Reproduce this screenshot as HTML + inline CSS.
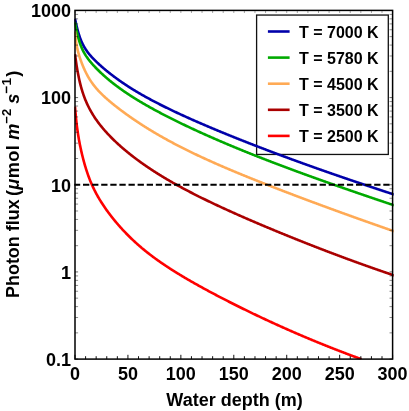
<!DOCTYPE html>
<html><head><meta charset="utf-8"><title>Photon flux</title>
<style>
html,body{margin:0;padding:0;background:#fff;}
body{width:409px;height:411px;overflow:hidden;}
svg{display:block;will-change:transform;}
text{font-family:"Liberation Sans",sans-serif;font-weight:bold;fill:#000;}
.tk{font-size:18px;}
.lg{font-size:16px;}
.ax{font-size:18px;}
</style></head><body>
<svg width="409" height="411" viewBox="0 0 409 411">
<rect width="409" height="411" fill="#fff"/>
<defs><clipPath id="cp"><rect x="74.30" y="10.4" width="319.40" height="349.20"/></clipPath></defs>
<rect x="256.6" y="15.05" width="131.7" height="139.4" fill="none" stroke="#111" stroke-width="1.3"/>
<g clip-path="url(#cp)">
<path d="M75.00,18.70 L75.25,19.94 L75.50,21.14 L75.75,22.31 L76.00,23.44 L76.25,24.55 L76.50,25.62 L76.75,26.66 L77.00,27.67 L77.25,28.66 L77.50,29.61 L77.75,30.53 L78.00,31.43 L78.25,32.30 L78.50,33.14 L78.75,33.96 L79.00,34.75 L79.25,35.52 L79.50,36.27 L79.75,36.99 L80.00,37.69 L80.25,38.37 L80.50,39.03 L80.75,39.68 L81.00,40.30 L81.25,40.90 L81.50,41.49 L81.75,42.06 L82.00,42.61 L82.25,43.15 L82.50,43.68 L82.75,44.19 L83.00,44.69 L83.25,45.17 L83.50,45.64 L83.75,46.10 L84.00,46.55 L84.25,46.99 L84.50,47.42 L84.75,47.84 L85.00,48.25 L85.50,49.05 L86.00,49.81 L86.50,50.54 L87.00,51.25 L87.50,51.93 L88.00,52.60 L88.50,53.24 L89.00,53.86 L89.50,54.47 L90.00,55.07 L90.50,55.65 L91.00,56.21 L91.50,56.77 L92.00,57.32 L92.50,57.85 L93.00,58.38 L93.50,58.90 L94.00,59.41 L94.50,59.92 L95.00,60.42 L95.50,60.91 L96.00,61.40 L96.50,61.88 L97.00,62.36 L97.50,62.83 L98.00,63.30 L98.50,63.76 L99.00,64.22 L99.50,64.68 L100.00,65.13 L100.50,65.57 L101.00,66.02 L101.50,66.46 L102.00,66.90 L102.50,67.33 L103.00,67.77 L103.50,68.19 L104.00,68.62 L104.50,69.04 L105.00,69.46 L105.50,69.88 L106.00,70.29 L106.50,70.71 L107.00,71.11 L107.50,71.52 L108.00,71.93 L108.50,72.33 L109.00,72.73 L109.50,73.12 L110.00,73.52 L110.50,73.91 L111.00,74.30 L111.50,74.69 L112.00,75.07 L112.50,75.45 L113.00,75.83 L113.50,76.21 L114.00,76.59 L114.50,76.96 L115.00,77.33 L115.50,77.70 L116.00,78.07 L116.50,78.44 L117.00,78.80 L117.50,79.16 L118.00,79.52 L118.50,79.88 L119.00,80.24 L119.50,80.59 L120.00,80.94 L120.50,81.29 L121.00,81.64 L121.50,81.98 L122.00,82.33 L122.50,82.67 L123.00,83.01 L123.50,83.35 L124.00,83.69 L124.50,84.02 L125.00,84.36 L125.50,84.69 L126.00,85.02 L126.50,85.35 L127.00,85.68 L127.50,86.00 L128.00,86.33 L128.50,86.65 L129.00,86.97 L129.50,87.29 L130.00,87.61 L130.50,87.92 L131.00,88.24 L131.50,88.55 L132.00,88.86 L132.50,89.17 L133.00,89.48 L133.50,89.79 L134.00,90.09 L134.50,90.40 L135.00,90.70 L135.50,91.01 L136.00,91.31 L136.50,91.61 L137.00,91.90 L137.50,92.20 L138.00,92.50 L138.50,92.79 L139.00,93.08 L139.50,93.38 L140.00,93.67 L140.50,93.96 L141.00,94.25 L141.50,94.53 L142.00,94.82 L142.50,95.10 L143.00,95.39 L143.50,95.67 L144.00,95.95 L144.50,96.23 L145.00,96.51 L145.50,96.79 L146.00,97.07 L146.50,97.35 L147.00,97.62 L147.50,97.90 L148.00,98.17 L148.50,98.44 L149.00,98.71 L149.50,98.99 L150.00,99.26 L150.50,99.52 L151.00,99.79 L151.50,100.06 L152.00,100.33 L152.50,100.59 L153.00,100.86 L153.50,101.12 L154.00,101.38 L154.50,101.64 L155.00,101.91 L155.50,102.17 L156.00,102.43 L156.50,102.69 L157.00,102.94 L157.50,103.20 L158.00,103.46 L158.50,103.71 L159.00,103.97 L159.50,104.22 L160.00,104.48 L160.50,104.73 L161.00,104.98 L161.50,105.23 L162.00,105.48 L162.50,105.73 L163.00,105.98 L163.50,106.23 L164.00,106.48 L164.50,106.73 L165.00,106.98 L165.50,107.22 L166.00,107.47 L166.50,107.71 L167.00,107.96 L167.50,108.20 L168.00,108.45 L168.50,108.69 L169.00,108.93 L169.50,109.17 L170.00,109.41 L170.50,109.65 L171.00,109.89 L171.50,110.13 L172.00,110.37 L172.50,110.61 L173.00,110.85 L173.50,111.09 L174.00,111.32 L174.50,111.56 L175.00,111.80 L175.50,112.03 L176.00,112.27 L176.50,112.50 L177.00,112.73 L177.50,112.97 L178.00,113.20 L178.50,113.43 L179.00,113.67 L179.50,113.90 L180.00,114.13 L180.50,114.36 L181.00,114.59 L181.50,114.82 L182.00,115.05 L182.50,115.28 L183.00,115.51 L183.50,115.73 L184.00,115.96 L184.50,116.19 L185.00,116.42 L185.50,116.64 L186.00,116.87 L186.50,117.10 L187.00,117.32 L187.50,117.55 L188.00,117.77 L188.50,118.00 L189.00,118.22 L189.50,118.44 L190.00,118.67 L190.50,118.89 L191.00,119.11 L191.50,119.33 L192.00,119.56 L192.50,119.78 L193.00,120.00 L193.50,120.22 L194.00,120.44 L194.50,120.66 L195.00,120.88 L195.50,121.10 L196.00,121.32 L196.50,121.54 L197.00,121.76 L197.50,121.98 L198.00,122.19 L198.50,122.41 L199.00,122.63 L199.50,122.85 L200.00,123.06 L200.50,123.28 L201.00,123.50 L201.50,123.71 L202.00,123.93 L202.50,124.14 L203.00,124.36 L203.50,124.57 L204.00,124.79 L204.50,125.00 L205.00,125.21 L205.50,125.43 L206.00,125.64 L206.50,125.86 L207.00,126.07 L207.50,126.28 L208.00,126.49 L208.50,126.71 L209.00,126.92 L209.50,127.13 L210.00,127.34 L210.50,127.55 L211.00,127.76 L211.50,127.97 L212.00,128.18 L212.50,128.39 L213.00,128.60 L213.50,128.81 L214.00,129.02 L214.50,129.23 L215.00,129.44 L215.50,129.65 L216.00,129.86 L216.50,130.07 L217.00,130.27 L217.50,130.48 L218.00,130.69 L218.50,130.90 L219.00,131.10 L219.50,131.31 L220.00,131.52 L220.50,131.72 L221.00,131.93 L221.50,132.14 L222.00,132.34 L222.50,132.55 L223.00,132.75 L223.50,132.96 L224.00,133.16 L224.50,133.37 L225.00,133.57 L225.50,133.78 L226.00,133.98 L226.50,134.18 L227.00,134.39 L227.50,134.59 L228.00,134.79 L228.50,135.00 L229.00,135.20 L229.50,135.40 L230.00,135.60 L230.50,135.81 L231.00,136.01 L231.50,136.21 L232.00,136.41 L232.50,136.61 L233.00,136.82 L233.50,137.02 L234.00,137.22 L234.50,137.42 L235.00,137.62 L235.50,137.82 L236.00,138.02 L236.50,138.22 L237.00,138.42 L237.50,138.62 L238.00,138.82 L238.50,139.02 L239.00,139.22 L239.50,139.42 L240.00,139.61 L240.50,139.81 L241.00,140.01 L241.50,140.21 L242.00,140.41 L242.50,140.61 L243.00,140.80 L243.50,141.00 L244.00,141.20 L244.50,141.40 L245.00,141.59 L245.50,141.79 L246.00,141.99 L246.50,142.18 L247.00,142.38 L247.50,142.57 L248.00,142.77 L248.50,142.97 L249.00,143.16 L249.50,143.36 L250.00,143.55 L250.50,143.75 L251.00,143.94 L251.50,144.14 L252.00,144.33 L252.50,144.53 L253.00,144.72 L253.50,144.92 L254.00,145.11 L254.50,145.30 L255.00,145.50 L255.50,145.69 L256.00,145.88 L256.50,146.08 L257.00,146.27 L257.50,146.46 L258.00,146.66 L258.50,146.85 L259.00,147.04 L259.50,147.23 L260.00,147.43 L260.50,147.62 L261.00,147.81 L261.50,148.00 L262.00,148.19 L262.50,148.38 L263.00,148.58 L263.50,148.77 L264.00,148.96 L264.50,149.15 L265.00,149.34 L265.50,149.53 L266.00,149.72 L266.50,149.91 L267.00,150.10 L267.50,150.29 L268.00,150.48 L268.50,150.67 L269.00,150.86 L269.50,151.05 L270.00,151.24 L270.50,151.43 L271.00,151.61 L271.50,151.80 L272.00,151.99 L272.50,152.18 L273.00,152.37 L273.50,152.56 L274.00,152.74 L274.50,152.93 L275.00,153.12 L275.50,153.31 L276.00,153.49 L276.50,153.68 L277.00,153.87 L277.50,154.06 L278.00,154.24 L278.50,154.43 L279.00,154.62 L279.50,154.80 L280.00,154.99 L280.50,155.18 L281.00,155.36 L281.50,155.55 L282.00,155.73 L282.50,155.92 L283.00,156.10 L283.50,156.29 L284.00,156.47 L284.50,156.66 L285.00,156.84 L285.50,157.03 L286.00,157.21 L286.50,157.40 L287.00,157.58 L287.50,157.77 L288.00,157.95 L288.50,158.14 L289.00,158.32 L289.50,158.50 L290.00,158.69 L290.50,158.87 L291.00,159.05 L291.50,159.24 L292.00,159.42 L292.50,159.60 L293.00,159.79 L293.50,159.97 L294.00,160.15 L294.50,160.33 L295.00,160.52 L295.50,160.70 L296.00,160.88 L296.50,161.06 L297.00,161.25 L297.50,161.43 L298.00,161.61 L298.50,161.79 L299.00,161.97 L299.50,162.15 L300.00,162.33 L300.50,162.51 L301.00,162.70 L301.50,162.88 L302.00,163.06 L302.50,163.24 L303.00,163.42 L303.50,163.60 L304.00,163.78 L304.50,163.96 L305.00,164.14 L305.50,164.32 L306.00,164.50 L306.50,164.68 L307.00,164.86 L307.50,165.04 L308.00,165.21 L308.50,165.39 L309.00,165.57 L309.50,165.75 L310.00,165.93 L310.50,166.11 L311.00,166.29 L311.50,166.47 L312.00,166.64 L312.50,166.82 L313.00,167.00 L313.50,167.18 L314.00,167.36 L314.50,167.53 L315.00,167.71 L315.50,167.89 L316.00,168.07 L316.50,168.24 L317.00,168.42 L317.50,168.60 L318.00,168.77 L318.50,168.95 L319.00,169.13 L319.50,169.30 L320.00,169.48 L320.50,169.66 L321.00,169.83 L321.50,170.01 L322.00,170.19 L322.50,170.36 L323.00,170.54 L323.50,170.71 L324.00,170.89 L324.50,171.06 L325.00,171.24 L325.50,171.41 L326.00,171.59 L326.50,171.76 L327.00,171.94 L327.50,172.11 L328.00,172.29 L328.50,172.46 L329.00,172.64 L329.50,172.81 L330.00,172.99 L330.50,173.16 L331.00,173.33 L331.50,173.51 L332.00,173.68 L332.50,173.86 L333.00,174.03 L333.50,174.20 L334.00,174.38 L334.50,174.55 L335.00,174.72 L335.50,174.90 L336.00,175.07 L336.50,175.24 L337.00,175.41 L337.50,175.59 L338.00,175.76 L338.50,175.93 L339.00,176.10 L339.50,176.28 L340.00,176.45 L340.50,176.62 L341.00,176.79 L341.50,176.97 L342.00,177.14 L342.50,177.31 L343.00,177.48 L343.50,177.65 L344.00,177.82 L344.50,177.99 L345.00,178.17 L345.50,178.34 L346.00,178.51 L346.50,178.68 L347.00,178.85 L347.50,179.02 L348.00,179.19 L348.50,179.36 L349.00,179.53 L349.50,179.70 L350.00,179.87 L350.50,180.04 L351.00,180.21 L351.50,180.38 L352.00,180.55 L352.50,180.72 L353.00,180.89 L353.50,181.06 L354.00,181.23 L354.50,181.40 L355.00,181.57 L355.50,181.74 L356.00,181.91 L356.50,182.08 L357.00,182.25 L357.50,182.41 L358.00,182.58 L358.50,182.75 L359.00,182.92 L359.50,183.09 L360.00,183.26 L360.50,183.43 L361.00,183.59 L361.50,183.76 L362.00,183.93 L362.50,184.10 L363.00,184.27 L363.50,184.43 L364.00,184.60 L364.50,184.77 L365.00,184.94 L365.50,185.10 L366.00,185.27 L366.50,185.44 L367.00,185.60 L367.50,185.77 L368.00,185.94 L368.50,186.11 L369.00,186.27 L369.50,186.44 L370.00,186.61 L370.50,186.77 L371.00,186.94 L371.50,187.11 L372.00,187.27 L372.50,187.44 L373.00,187.60 L373.50,187.77 L374.00,187.94 L374.50,188.10 L375.00,188.27 L375.50,188.43 L376.00,188.60 L376.50,188.76 L377.00,188.93 L377.50,189.09 L378.00,189.26 L378.50,189.43 L379.00,189.59 L379.50,189.76 L380.00,189.92 L380.50,190.09 L381.00,190.25 L381.50,190.41 L382.00,190.58 L382.50,190.74 L383.00,190.91 L383.50,191.07 L384.00,191.24 L384.50,191.40 L385.00,191.57 L385.50,191.73 L386.00,191.89 L386.50,192.06 L387.00,192.22 L387.50,192.38 L388.00,192.55 L388.50,192.71 L389.00,192.88 L389.50,193.04 L390.00,193.20 L390.50,193.37 L391.00,193.53 L391.50,193.69 L392.00,193.86 L392.50,194.02 L392.60,194.05 L394.10,194.54" stroke="#0000aa" stroke-width="2.6" fill="none" stroke-linejoin="round"/>
<path d="M75.00,22.22 L75.25,23.65 L75.50,25.04 L75.75,26.38 L76.00,27.67 L76.25,28.93 L76.50,30.14 L76.75,31.31 L77.00,32.45 L77.25,33.54 L77.50,34.60 L77.75,35.62 L78.00,36.60 L78.25,37.55 L78.50,38.47 L78.75,39.35 L79.00,40.21 L79.25,41.03 L79.50,41.83 L79.75,42.60 L80.00,43.34 L80.25,44.06 L80.50,44.75 L80.75,45.43 L81.00,46.08 L81.25,46.71 L81.50,47.32 L81.75,47.91 L82.00,48.48 L82.25,49.04 L82.50,49.58 L82.75,50.10 L83.00,50.62 L83.25,51.11 L83.50,51.60 L83.75,52.07 L84.00,52.53 L84.25,52.98 L84.50,53.42 L84.75,53.85 L85.00,54.27 L85.50,55.08 L86.00,55.87 L86.50,56.62 L87.00,57.35 L87.50,58.06 L88.00,58.74 L88.50,59.41 L89.00,60.06 L89.50,60.70 L90.00,61.32 L90.50,61.93 L91.00,62.52 L91.50,63.11 L92.00,63.69 L92.50,64.25 L93.00,64.81 L93.50,65.36 L94.00,65.91 L94.50,66.45 L95.00,66.98 L95.50,67.50 L96.00,68.02 L96.50,68.53 L97.00,69.04 L97.50,69.54 L98.00,70.04 L98.50,70.54 L99.00,71.02 L99.50,71.51 L100.00,71.99 L100.50,72.46 L101.00,72.93 L101.50,73.40 L102.00,73.87 L102.50,74.33 L103.00,74.78 L103.50,75.23 L104.00,75.68 L104.50,76.13 L105.00,76.57 L105.50,77.01 L106.00,77.45 L106.50,77.88 L107.00,78.31 L107.50,78.73 L108.00,79.15 L108.50,79.57 L109.00,79.99 L109.50,80.40 L110.00,80.82 L110.50,81.22 L111.00,81.63 L111.50,82.03 L112.00,82.43 L112.50,82.83 L113.00,83.22 L113.50,83.61 L114.00,84.00 L114.50,84.39 L115.00,84.77 L115.50,85.16 L116.00,85.53 L116.50,85.91 L117.00,86.29 L117.50,86.66 L118.00,87.03 L118.50,87.40 L119.00,87.76 L119.50,88.13 L120.00,88.49 L120.50,88.85 L121.00,89.20 L121.50,89.56 L122.00,89.91 L122.50,90.26 L123.00,90.61 L123.50,90.96 L124.00,91.31 L124.50,91.65 L125.00,91.99 L125.50,92.33 L126.00,92.67 L126.50,93.01 L127.00,93.34 L127.50,93.68 L128.00,94.01 L128.50,94.34 L129.00,94.67 L129.50,94.99 L130.00,95.32 L130.50,95.64 L131.00,95.97 L131.50,96.29 L132.00,96.61 L132.50,96.92 L133.00,97.24 L133.50,97.56 L134.00,97.87 L134.50,98.18 L135.00,98.49 L135.50,98.80 L136.00,99.11 L136.50,99.42 L137.00,99.73 L137.50,100.03 L138.00,100.34 L138.50,100.64 L139.00,100.94 L139.50,101.24 L140.00,101.54 L140.50,101.84 L141.00,102.13 L141.50,102.43 L142.00,102.72 L142.50,103.02 L143.00,103.31 L143.50,103.60 L144.00,103.89 L144.50,104.18 L145.00,104.47 L145.50,104.76 L146.00,105.05 L146.50,105.33 L147.00,105.62 L147.50,105.90 L148.00,106.18 L148.50,106.47 L149.00,106.75 L149.50,107.03 L150.00,107.31 L150.50,107.59 L151.00,107.86 L151.50,108.14 L152.00,108.42 L152.50,108.69 L153.00,108.97 L153.50,109.24 L154.00,109.52 L154.50,109.79 L155.00,110.06 L155.50,110.33 L156.00,110.60 L156.50,110.87 L157.00,111.14 L157.50,111.41 L158.00,111.67 L158.50,111.94 L159.00,112.21 L159.50,112.47 L160.00,112.74 L160.50,113.00 L161.00,113.27 L161.50,113.53 L162.00,113.79 L162.50,114.05 L163.00,114.31 L163.50,114.57 L164.00,114.83 L164.50,115.09 L165.00,115.35 L165.50,115.61 L166.00,115.86 L166.50,116.12 L167.00,116.38 L167.50,116.63 L168.00,116.89 L168.50,117.14 L169.00,117.40 L169.50,117.65 L170.00,117.90 L170.50,118.16 L171.00,118.41 L171.50,118.66 L172.00,118.91 L172.50,119.16 L173.00,119.41 L173.50,119.66 L174.00,119.91 L174.50,120.15 L175.00,120.40 L175.50,120.65 L176.00,120.90 L176.50,121.14 L177.00,121.39 L177.50,121.63 L178.00,121.88 L178.50,122.12 L179.00,122.37 L179.50,122.61 L180.00,122.85 L180.50,123.10 L181.00,123.34 L181.50,123.58 L182.00,123.82 L182.50,124.06 L183.00,124.30 L183.50,124.54 L184.00,124.78 L184.50,125.02 L185.00,125.26 L185.50,125.50 L186.00,125.74 L186.50,125.97 L187.00,126.21 L187.50,126.45 L188.00,126.68 L188.50,126.92 L189.00,127.15 L189.50,127.39 L190.00,127.62 L190.50,127.86 L191.00,128.09 L191.50,128.33 L192.00,128.56 L192.50,128.79 L193.00,129.02 L193.50,129.26 L194.00,129.49 L194.50,129.72 L195.00,129.95 L195.50,130.18 L196.00,130.41 L196.50,130.64 L197.00,130.87 L197.50,131.10 L198.00,131.33 L198.50,131.56 L199.00,131.78 L199.50,132.01 L200.00,132.24 L200.50,132.47 L201.00,132.69 L201.50,132.92 L202.00,133.14 L202.50,133.37 L203.00,133.60 L203.50,133.82 L204.00,134.05 L204.50,134.27 L205.00,134.49 L205.50,134.72 L206.00,134.94 L206.50,135.16 L207.00,135.39 L207.50,135.61 L208.00,135.83 L208.50,136.05 L209.00,136.27 L209.50,136.49 L210.00,136.72 L210.50,136.94 L211.00,137.16 L211.50,137.38 L212.00,137.60 L212.50,137.81 L213.00,138.03 L213.50,138.25 L214.00,138.47 L214.50,138.69 L215.00,138.91 L215.50,139.12 L216.00,139.34 L216.50,139.56 L217.00,139.77 L217.50,139.99 L218.00,140.21 L218.50,140.42 L219.00,140.64 L219.50,140.85 L220.00,141.07 L220.50,141.28 L221.00,141.50 L221.50,141.71 L222.00,141.93 L222.50,142.14 L223.00,142.35 L223.50,142.56 L224.00,142.78 L224.50,142.99 L225.00,143.20 L225.50,143.41 L226.00,143.63 L226.50,143.84 L227.00,144.05 L227.50,144.26 L228.00,144.47 L228.50,144.68 L229.00,144.89 L229.50,145.10 L230.00,145.31 L230.50,145.52 L231.00,145.73 L231.50,145.94 L232.00,146.14 L232.50,146.35 L233.00,146.56 L233.50,146.77 L234.00,146.98 L234.50,147.18 L235.00,147.39 L235.50,147.60 L236.00,147.80 L236.50,148.01 L237.00,148.22 L237.50,148.42 L238.00,148.63 L238.50,148.83 L239.00,149.04 L239.50,149.24 L240.00,149.45 L240.50,149.65 L241.00,149.86 L241.50,150.06 L242.00,150.26 L242.50,150.47 L243.00,150.67 L243.50,150.87 L244.00,151.08 L244.50,151.28 L245.00,151.48 L245.50,151.68 L246.00,151.89 L246.50,152.09 L247.00,152.29 L247.50,152.49 L248.00,152.69 L248.50,152.89 L249.00,153.09 L249.50,153.29 L250.00,153.49 L250.50,153.69 L251.00,153.89 L251.50,154.09 L252.00,154.29 L252.50,154.49 L253.00,154.69 L253.50,154.89 L254.00,155.09 L254.50,155.28 L255.00,155.48 L255.50,155.68 L256.00,155.88 L256.50,156.08 L257.00,156.27 L257.50,156.47 L258.00,156.67 L258.50,156.86 L259.00,157.06 L259.50,157.26 L260.00,157.45 L260.50,157.65 L261.00,157.84 L261.50,158.04 L262.00,158.23 L262.50,158.43 L263.00,158.62 L263.50,158.82 L264.00,159.01 L264.50,159.21 L265.00,159.40 L265.50,159.60 L266.00,159.79 L266.50,159.98 L267.00,160.18 L267.50,160.37 L268.00,160.56 L268.50,160.76 L269.00,160.95 L269.50,161.14 L270.00,161.33 L270.50,161.53 L271.00,161.72 L271.50,161.91 L272.00,162.10 L272.50,162.29 L273.00,162.48 L273.50,162.68 L274.00,162.87 L274.50,163.06 L275.00,163.25 L275.50,163.44 L276.00,163.63 L276.50,163.82 L277.00,164.01 L277.50,164.20 L278.00,164.39 L278.50,164.58 L279.00,164.77 L279.50,164.96 L280.00,165.15 L280.50,165.33 L281.00,165.52 L281.50,165.71 L282.00,165.90 L282.50,166.09 L283.00,166.28 L283.50,166.46 L284.00,166.65 L284.50,166.84 L285.00,167.03 L285.50,167.21 L286.00,167.40 L286.50,167.59 L287.00,167.78 L287.50,167.96 L288.00,168.15 L288.50,168.34 L289.00,168.52 L289.50,168.71 L290.00,168.89 L290.50,169.08 L291.00,169.26 L291.50,169.45 L292.00,169.64 L292.50,169.82 L293.00,170.01 L293.50,170.19 L294.00,170.38 L294.50,170.56 L295.00,170.74 L295.50,170.93 L296.00,171.11 L296.50,171.30 L297.00,171.48 L297.50,171.67 L298.00,171.85 L298.50,172.03 L299.00,172.22 L299.50,172.40 L300.00,172.58 L300.50,172.77 L301.00,172.95 L301.50,173.13 L302.00,173.31 L302.50,173.50 L303.00,173.68 L303.50,173.86 L304.00,174.04 L304.50,174.23 L305.00,174.41 L305.50,174.59 L306.00,174.77 L306.50,174.95 L307.00,175.13 L307.50,175.32 L308.00,175.50 L308.50,175.68 L309.00,175.86 L309.50,176.04 L310.00,176.22 L310.50,176.40 L311.00,176.58 L311.50,176.76 L312.00,176.94 L312.50,177.12 L313.00,177.30 L313.50,177.48 L314.00,177.66 L314.50,177.84 L315.00,178.02 L315.50,178.20 L316.00,178.38 L316.50,178.56 L317.00,178.74 L317.50,178.92 L318.00,179.09 L318.50,179.27 L319.00,179.45 L319.50,179.63 L320.00,179.81 L320.50,179.99 L321.00,180.17 L321.50,180.34 L322.00,180.52 L322.50,180.70 L323.00,180.88 L323.50,181.06 L324.00,181.23 L324.50,181.41 L325.00,181.59 L325.50,181.77 L326.00,181.94 L326.50,182.12 L327.00,182.30 L327.50,182.47 L328.00,182.65 L328.50,182.83 L329.00,183.00 L329.50,183.18 L330.00,183.36 L330.50,183.53 L331.00,183.71 L331.50,183.88 L332.00,184.06 L332.50,184.24 L333.00,184.41 L333.50,184.59 L334.00,184.76 L334.50,184.94 L335.00,185.11 L335.50,185.29 L336.00,185.47 L336.50,185.64 L337.00,185.82 L337.50,185.99 L338.00,186.17 L338.50,186.34 L339.00,186.52 L339.50,186.69 L340.00,186.86 L340.50,187.04 L341.00,187.21 L341.50,187.39 L342.00,187.56 L342.50,187.74 L343.00,187.91 L343.50,188.08 L344.00,188.26 L344.50,188.43 L345.00,188.61 L345.50,188.78 L346.00,188.95 L346.50,189.13 L347.00,189.30 L347.50,189.47 L348.00,189.65 L348.50,189.82 L349.00,189.99 L349.50,190.17 L350.00,190.34 L350.50,190.51 L351.00,190.68 L351.50,190.86 L352.00,191.03 L352.50,191.20 L353.00,191.37 L353.50,191.55 L354.00,191.72 L354.50,191.89 L355.00,192.06 L355.50,192.24 L356.00,192.41 L356.50,192.58 L357.00,192.75 L357.50,192.92 L358.00,193.10 L358.50,193.27 L359.00,193.44 L359.50,193.61 L360.00,193.78 L360.50,193.95 L361.00,194.12 L361.50,194.30 L362.00,194.47 L362.50,194.64 L363.00,194.81 L363.50,194.98 L364.00,195.15 L364.50,195.32 L365.00,195.49 L365.50,195.66 L366.00,195.83 L366.50,196.01 L367.00,196.18 L367.50,196.35 L368.00,196.52 L368.50,196.69 L369.00,196.86 L369.50,197.03 L370.00,197.20 L370.50,197.37 L371.00,197.54 L371.50,197.71 L372.00,197.88 L372.50,198.05 L373.00,198.22 L373.50,198.39 L374.00,198.56 L374.50,198.73 L375.00,198.90 L375.50,199.07 L376.00,199.23 L376.50,199.40 L377.00,199.57 L377.50,199.74 L378.00,199.91 L378.50,200.08 L379.00,200.25 L379.50,200.42 L380.00,200.59 L380.50,200.76 L381.00,200.93 L381.50,201.10 L382.00,201.26 L382.50,201.43 L383.00,201.60 L383.50,201.77 L384.00,201.94 L384.50,202.11 L385.00,202.28 L385.50,202.44 L386.00,202.61 L386.50,202.78 L387.00,202.95 L387.50,203.12 L388.00,203.29 L388.50,203.45 L389.00,203.62 L389.50,203.79 L390.00,203.96 L390.50,204.12 L391.00,204.29 L391.50,204.46 L392.00,204.63 L392.50,204.80 L392.60,204.83 L394.10,205.33" stroke="#00aa00" stroke-width="2.6" fill="none" stroke-linejoin="round"/>
<path d="M75.00,31.35 L75.25,34.34 L75.50,36.94 L75.75,39.20 L76.00,41.17 L76.25,42.91 L76.50,44.47 L76.75,45.87 L77.00,47.14 L77.25,48.32 L77.50,49.41 L77.75,50.44 L78.00,51.42 L78.25,52.35 L78.50,53.24 L78.75,54.11 L79.00,54.94 L79.25,55.76 L79.50,56.55 L79.75,57.33 L80.00,58.08 L80.25,58.83 L80.50,59.56 L80.75,60.27 L81.00,60.97 L81.25,61.66 L81.50,62.34 L81.75,63.01 L82.00,63.66 L82.25,64.31 L82.50,64.94 L82.75,65.56 L83.00,66.18 L83.25,66.78 L83.50,67.37 L83.75,67.95 L84.00,68.53 L84.25,69.09 L84.50,69.65 L84.75,70.19 L85.00,70.73 L85.50,71.78 L86.00,72.80 L86.50,73.78 L87.00,74.73 L87.50,75.66 L88.00,76.55 L88.50,77.42 L89.00,78.27 L89.50,79.08 L90.00,79.88 L90.50,80.65 L91.00,81.41 L91.50,82.14 L92.00,82.86 L92.50,83.55 L93.00,84.23 L93.50,84.89 L94.00,85.54 L94.50,86.17 L95.00,86.79 L95.50,87.40 L96.00,87.99 L96.50,88.58 L97.00,89.15 L97.50,89.71 L98.00,90.26 L98.50,90.81 L99.00,91.34 L99.50,91.86 L100.00,92.38 L100.50,92.89 L101.00,93.40 L101.50,93.89 L102.00,94.38 L102.50,94.87 L103.00,95.34 L103.50,95.82 L104.00,96.29 L104.50,96.75 L105.00,97.21 L105.50,97.66 L106.00,98.11 L106.50,98.56 L107.00,99.00 L107.50,99.44 L108.00,99.87 L108.50,100.30 L109.00,100.73 L109.50,101.16 L110.00,101.58 L110.50,102.00 L111.00,102.42 L111.50,102.83 L112.00,103.24 L112.50,103.65 L113.00,104.06 L113.50,104.46 L114.00,104.87 L114.50,105.27 L115.00,105.66 L115.50,106.06 L116.00,106.45 L116.50,106.85 L117.00,107.24 L117.50,107.62 L118.00,108.01 L118.50,108.40 L119.00,108.78 L119.50,109.16 L120.00,109.54 L120.50,109.92 L121.00,110.29 L121.50,110.67 L122.00,111.04 L122.50,111.41 L123.00,111.78 L123.50,112.15 L124.00,112.52 L124.50,112.89 L125.00,113.25 L125.50,113.61 L126.00,113.98 L126.50,114.34 L127.00,114.69 L127.50,115.05 L128.00,115.41 L128.50,115.76 L129.00,116.12 L129.50,116.47 L130.00,116.82 L130.50,117.17 L131.00,117.52 L131.50,117.87 L132.00,118.21 L132.50,118.56 L133.00,118.90 L133.50,119.24 L134.00,119.58 L134.50,119.92 L135.00,120.26 L135.50,120.60 L136.00,120.94 L136.50,121.27 L137.00,121.61 L137.50,121.94 L138.00,122.27 L138.50,122.60 L139.00,122.93 L139.50,123.26 L140.00,123.59 L140.50,123.91 L141.00,124.24 L141.50,124.56 L142.00,124.88 L142.50,125.20 L143.00,125.53 L143.50,125.84 L144.00,126.16 L144.50,126.48 L145.00,126.80 L145.50,127.11 L146.00,127.43 L146.50,127.74 L147.00,128.05 L147.50,128.36 L148.00,128.67 L148.50,128.98 L149.00,129.29 L149.50,129.60 L150.00,129.90 L150.50,130.21 L151.00,130.51 L151.50,130.81 L152.00,131.12 L152.50,131.42 L153.00,131.72 L153.50,132.02 L154.00,132.32 L154.50,132.61 L155.00,132.91 L155.50,133.20 L156.00,133.50 L156.50,133.79 L157.00,134.08 L157.50,134.38 L158.00,134.67 L158.50,134.96 L159.00,135.25 L159.50,135.53 L160.00,135.82 L160.50,136.11 L161.00,136.39 L161.50,136.68 L162.00,136.96 L162.50,137.24 L163.00,137.53 L163.50,137.81 L164.00,138.09 L164.50,138.37 L165.00,138.65 L165.50,138.92 L166.00,139.20 L166.50,139.48 L167.00,139.75 L167.50,140.03 L168.00,140.30 L168.50,140.57 L169.00,140.85 L169.50,141.12 L170.00,141.39 L170.50,141.66 L171.00,141.93 L171.50,142.19 L172.00,142.46 L172.50,142.73 L173.00,143.00 L173.50,143.26 L174.00,143.53 L174.50,143.79 L175.00,144.05 L175.50,144.31 L176.00,144.58 L176.50,144.84 L177.00,145.10 L177.50,145.36 L178.00,145.62 L178.50,145.87 L179.00,146.13 L179.50,146.39 L180.00,146.65 L180.50,146.90 L181.00,147.16 L181.50,147.41 L182.00,147.66 L182.50,147.92 L183.00,148.17 L183.50,148.42 L184.00,148.67 L184.50,148.92 L185.00,149.17 L185.50,149.42 L186.00,149.67 L186.50,149.92 L187.00,150.17 L187.50,150.41 L188.00,150.66 L188.50,150.91 L189.00,151.15 L189.50,151.40 L190.00,151.64 L190.50,151.88 L191.00,152.13 L191.50,152.37 L192.00,152.61 L192.50,152.85 L193.00,153.09 L193.50,153.33 L194.00,153.57 L194.50,153.81 L195.00,154.05 L195.50,154.29 L196.00,154.53 L196.50,154.76 L197.00,155.00 L197.50,155.24 L198.00,155.47 L198.50,155.71 L199.00,155.94 L199.50,156.18 L200.00,156.41 L200.50,156.64 L201.00,156.88 L201.50,157.11 L202.00,157.34 L202.50,157.57 L203.00,157.80 L203.50,158.03 L204.00,158.26 L204.50,158.49 L205.00,158.72 L205.50,158.95 L206.00,159.18 L206.50,159.41 L207.00,159.63 L207.50,159.86 L208.00,160.09 L208.50,160.31 L209.00,160.54 L209.50,160.76 L210.00,160.99 L210.50,161.21 L211.00,161.44 L211.50,161.66 L212.00,161.88 L212.50,162.11 L213.00,162.33 L213.50,162.55 L214.00,162.77 L214.50,162.99 L215.00,163.22 L215.50,163.44 L216.00,163.66 L216.50,163.88 L217.00,164.10 L217.50,164.32 L218.00,164.53 L218.50,164.75 L219.00,164.97 L219.50,165.19 L220.00,165.41 L220.50,165.62 L221.00,165.84 L221.50,166.06 L222.00,166.27 L222.50,166.49 L223.00,166.71 L223.50,166.92 L224.00,167.14 L224.50,167.35 L225.00,167.57 L225.50,167.78 L226.00,167.99 L226.50,168.21 L227.00,168.42 L227.50,168.63 L228.00,168.85 L228.50,169.06 L229.00,169.27 L229.50,169.48 L230.00,169.69 L230.50,169.90 L231.00,170.11 L231.50,170.33 L232.00,170.54 L232.50,170.75 L233.00,170.96 L233.50,171.17 L234.00,171.37 L234.50,171.58 L235.00,171.79 L235.50,172.00 L236.00,172.21 L236.50,172.42 L237.00,172.62 L237.50,172.83 L238.00,173.04 L238.50,173.25 L239.00,173.45 L239.50,173.66 L240.00,173.87 L240.50,174.07 L241.00,174.28 L241.50,174.48 L242.00,174.69 L242.50,174.89 L243.00,175.10 L243.50,175.30 L244.00,175.51 L244.50,175.71 L245.00,175.92 L245.50,176.12 L246.00,176.32 L246.50,176.53 L247.00,176.73 L247.50,176.93 L248.00,177.14 L248.50,177.34 L249.00,177.54 L249.50,177.74 L250.00,177.95 L250.50,178.15 L251.00,178.35 L251.50,178.55 L252.00,178.75 L252.50,178.95 L253.00,179.15 L253.50,179.35 L254.00,179.56 L254.50,179.76 L255.00,179.96 L255.50,180.16 L256.00,180.36 L256.50,180.55 L257.00,180.75 L257.50,180.95 L258.00,181.15 L258.50,181.35 L259.00,181.55 L259.50,181.75 L260.00,181.95 L260.50,182.15 L261.00,182.34 L261.50,182.54 L262.00,182.74 L262.50,182.94 L263.00,183.13 L263.50,183.33 L264.00,183.53 L264.50,183.72 L265.00,183.92 L265.50,184.12 L266.00,184.31 L266.50,184.51 L267.00,184.71 L267.50,184.90 L268.00,185.10 L268.50,185.29 L269.00,185.49 L269.50,185.69 L270.00,185.88 L270.50,186.08 L271.00,186.27 L271.50,186.47 L272.00,186.66 L272.50,186.85 L273.00,187.05 L273.50,187.24 L274.00,187.44 L274.50,187.63 L275.00,187.83 L275.50,188.02 L276.00,188.21 L276.50,188.41 L277.00,188.60 L277.50,188.79 L278.00,188.99 L278.50,189.18 L279.00,189.37 L279.50,189.56 L280.00,189.76 L280.50,189.95 L281.00,190.14 L281.50,190.33 L282.00,190.53 L282.50,190.72 L283.00,190.91 L283.50,191.10 L284.00,191.29 L284.50,191.48 L285.00,191.68 L285.50,191.87 L286.00,192.06 L286.50,192.25 L287.00,192.44 L287.50,192.63 L288.00,192.82 L288.50,193.01 L289.00,193.20 L289.50,193.39 L290.00,193.58 L290.50,193.77 L291.00,193.96 L291.50,194.15 L292.00,194.34 L292.50,194.53 L293.00,194.72 L293.50,194.91 L294.00,195.10 L294.50,195.29 L295.00,195.48 L295.50,195.67 L296.00,195.86 L296.50,196.04 L297.00,196.23 L297.50,196.42 L298.00,196.61 L298.50,196.80 L299.00,196.99 L299.50,197.18 L300.00,197.36 L300.50,197.55 L301.00,197.74 L301.50,197.93 L302.00,198.12 L302.50,198.30 L303.00,198.49 L303.50,198.68 L304.00,198.86 L304.50,199.05 L305.00,199.24 L305.50,199.43 L306.00,199.61 L306.50,199.80 L307.00,199.99 L307.50,200.17 L308.00,200.36 L308.50,200.55 L309.00,200.73 L309.50,200.92 L310.00,201.11 L310.50,201.29 L311.00,201.48 L311.50,201.66 L312.00,201.85 L312.50,202.04 L313.00,202.22 L313.50,202.41 L314.00,202.59 L314.50,202.78 L315.00,202.96 L315.50,203.15 L316.00,203.33 L316.50,203.52 L317.00,203.70 L317.50,203.89 L318.00,204.07 L318.50,204.26 L319.00,204.44 L319.50,204.63 L320.00,204.81 L320.50,205.00 L321.00,205.18 L321.50,205.36 L322.00,205.55 L322.50,205.73 L323.00,205.92 L323.50,206.10 L324.00,206.28 L324.50,206.47 L325.00,206.65 L325.50,206.83 L326.00,207.02 L326.50,207.20 L327.00,207.38 L327.50,207.57 L328.00,207.75 L328.50,207.93 L329.00,208.12 L329.50,208.30 L330.00,208.48 L330.50,208.67 L331.00,208.85 L331.50,209.03 L332.00,209.21 L332.50,209.40 L333.00,209.58 L333.50,209.76 L334.00,209.94 L334.50,210.12 L335.00,210.31 L335.50,210.49 L336.00,210.67 L336.50,210.85 L337.00,211.03 L337.50,211.22 L338.00,211.40 L338.50,211.58 L339.00,211.76 L339.50,211.94 L340.00,212.12 L340.50,212.30 L341.00,212.48 L341.50,212.67 L342.00,212.85 L342.50,213.03 L343.00,213.21 L343.50,213.39 L344.00,213.57 L344.50,213.75 L345.00,213.93 L345.50,214.11 L346.00,214.29 L346.50,214.47 L347.00,214.65 L347.50,214.83 L348.00,215.01 L348.50,215.19 L349.00,215.37 L349.50,215.55 L350.00,215.73 L350.50,215.91 L351.00,216.09 L351.50,216.27 L352.00,216.45 L352.50,216.63 L353.00,216.81 L353.50,216.99 L354.00,217.17 L354.50,217.35 L355.00,217.52 L355.50,217.70 L356.00,217.88 L356.50,218.06 L357.00,218.24 L357.50,218.42 L358.00,218.60 L358.50,218.77 L359.00,218.95 L359.50,219.13 L360.00,219.31 L360.50,219.49 L361.00,219.67 L361.50,219.84 L362.00,220.02 L362.50,220.20 L363.00,220.38 L363.50,220.56 L364.00,220.73 L364.50,220.91 L365.00,221.09 L365.50,221.27 L366.00,221.44 L366.50,221.62 L367.00,221.80 L367.50,221.97 L368.00,222.15 L368.50,222.33 L369.00,222.51 L369.50,222.68 L370.00,222.86 L370.50,223.04 L371.00,223.21 L371.50,223.39 L372.00,223.57 L372.50,223.74 L373.00,223.92 L373.50,224.09 L374.00,224.27 L374.50,224.45 L375.00,224.62 L375.50,224.80 L376.00,224.97 L376.50,225.15 L377.00,225.33 L377.50,225.50 L378.00,225.68 L378.50,225.85 L379.00,226.03 L379.50,226.20 L380.00,226.38 L380.50,226.55 L381.00,226.73 L381.50,226.90 L382.00,227.08 L382.50,227.25 L383.00,227.43 L383.50,227.60 L384.00,227.78 L384.50,227.95 L385.00,228.13 L385.50,228.30 L386.00,228.48 L386.50,228.65 L387.00,228.82 L387.50,229.00 L388.00,229.17 L388.50,229.35 L389.00,229.52 L389.50,229.69 L390.00,229.87 L390.50,230.04 L391.00,230.22 L391.50,230.39 L392.00,230.56 L392.50,230.74 L392.60,230.77 L394.10,231.29" stroke="#ffaa55" stroke-width="2.6" fill="none" stroke-linejoin="round"/>
<path d="M75.00,54.12 L75.25,56.06 L75.50,57.93 L75.75,59.74 L76.00,61.50 L76.25,63.19 L76.50,64.83 L76.75,66.41 L77.00,67.94 L77.25,69.42 L77.50,70.85 L77.75,72.23 L78.00,73.57 L78.25,74.87 L78.50,76.12 L78.75,77.34 L79.00,78.51 L79.25,79.66 L79.50,80.76 L79.75,81.84 L80.00,82.88 L80.25,83.89 L80.50,84.87 L80.75,85.83 L81.00,86.76 L81.25,87.66 L81.50,88.55 L81.75,89.40 L82.00,90.24 L82.25,91.06 L82.50,91.85 L82.75,92.63 L83.00,93.39 L83.25,94.13 L83.50,94.86 L83.75,95.57 L84.00,96.27 L84.25,96.95 L84.50,97.61 L84.75,98.27 L85.00,98.91 L85.50,100.15 L86.00,101.35 L86.50,102.51 L87.00,103.63 L87.50,104.71 L88.00,105.76 L88.50,106.78 L89.00,107.77 L89.50,108.73 L90.00,109.67 L90.50,110.58 L91.00,111.47 L91.50,112.34 L92.00,113.19 L92.50,114.02 L93.00,114.83 L93.50,115.63 L94.00,116.41 L94.50,117.18 L95.00,117.93 L95.50,118.67 L96.00,119.40 L96.50,120.11 L97.00,120.81 L97.50,121.50 L98.00,122.18 L98.50,122.85 L99.00,123.51 L99.50,124.17 L100.00,124.81 L100.50,125.44 L101.00,126.07 L101.50,126.69 L102.00,127.30 L102.50,127.90 L103.00,128.50 L103.50,129.09 L104.00,129.67 L104.50,130.24 L105.00,130.81 L105.50,131.38 L106.00,131.94 L106.50,132.49 L107.00,133.04 L107.50,133.58 L108.00,134.12 L108.50,134.65 L109.00,135.18 L109.50,135.70 L110.00,136.22 L110.50,136.73 L111.00,137.24 L111.50,137.75 L112.00,138.25 L112.50,138.75 L113.00,139.24 L113.50,139.73 L114.00,140.22 L114.50,140.70 L115.00,141.18 L115.50,141.65 L116.00,142.12 L116.50,142.59 L117.00,143.06 L117.50,143.52 L118.00,143.98 L118.50,144.44 L119.00,144.89 L119.50,145.34 L120.00,145.79 L120.50,146.23 L121.00,146.67 L121.50,147.11 L122.00,147.55 L122.50,147.98 L123.00,148.41 L123.50,148.84 L124.00,149.26 L124.50,149.69 L125.00,150.11 L125.50,150.53 L126.00,150.94 L126.50,151.36 L127.00,151.77 L127.50,152.18 L128.00,152.58 L128.50,152.99 L129.00,153.39 L129.50,153.79 L130.00,154.19 L130.50,154.59 L131.00,154.98 L131.50,155.38 L132.00,155.77 L132.50,156.15 L133.00,156.54 L133.50,156.93 L134.00,157.31 L134.50,157.69 L135.00,158.07 L135.50,158.45 L136.00,158.82 L136.50,159.20 L137.00,159.57 L137.50,159.94 L138.00,160.31 L138.50,160.67 L139.00,161.04 L139.50,161.40 L140.00,161.77 L140.50,162.13 L141.00,162.49 L141.50,162.84 L142.00,163.20 L142.50,163.55 L143.00,163.91 L143.50,164.26 L144.00,164.61 L144.50,164.95 L145.00,165.30 L145.50,165.65 L146.00,165.99 L146.50,166.33 L147.00,166.67 L147.50,167.01 L148.00,167.35 L148.50,167.69 L149.00,168.02 L149.50,168.36 L150.00,168.69 L150.50,169.02 L151.00,169.35 L151.50,169.68 L152.00,170.01 L152.50,170.34 L153.00,170.66 L153.50,170.99 L154.00,171.31 L154.50,171.63 L155.00,171.95 L155.50,172.27 L156.00,172.59 L156.50,172.91 L157.00,173.22 L157.50,173.54 L158.00,173.85 L158.50,174.16 L159.00,174.47 L159.50,174.78 L160.00,175.09 L160.50,175.40 L161.00,175.71 L161.50,176.01 L162.00,176.32 L162.50,176.62 L163.00,176.93 L163.50,177.23 L164.00,177.53 L164.50,177.83 L165.00,178.13 L165.50,178.42 L166.00,178.72 L166.50,179.02 L167.00,179.31 L167.50,179.61 L168.00,179.90 L168.50,180.19 L169.00,180.48 L169.50,180.77 L170.00,181.06 L170.50,181.35 L171.00,181.64 L171.50,181.92 L172.00,182.21 L172.50,182.50 L173.00,182.78 L173.50,183.06 L174.00,183.34 L174.50,183.63 L175.00,183.91 L175.50,184.19 L176.00,184.47 L176.50,184.74 L177.00,185.02 L177.50,185.30 L178.00,185.58 L178.50,185.85 L179.00,186.13 L179.50,186.40 L180.00,186.67 L180.50,186.94 L181.00,187.22 L181.50,187.49 L182.00,187.76 L182.50,188.03 L183.00,188.30 L183.50,188.56 L184.00,188.83 L184.50,189.10 L185.00,189.36 L185.50,189.63 L186.00,189.89 L186.50,190.16 L187.00,190.42 L187.50,190.68 L188.00,190.95 L188.50,191.21 L189.00,191.47 L189.50,191.73 L190.00,191.99 L190.50,192.25 L191.00,192.51 L191.50,192.76 L192.00,193.02 L192.50,193.28 L193.00,193.53 L193.50,193.79 L194.00,194.04 L194.50,194.30 L195.00,194.55 L195.50,194.81 L196.00,195.06 L196.50,195.31 L197.00,195.56 L197.50,195.81 L198.00,196.06 L198.50,196.32 L199.00,196.56 L199.50,196.81 L200.00,197.06 L200.50,197.31 L201.00,197.56 L201.50,197.81 L202.00,198.05 L202.50,198.30 L203.00,198.54 L203.50,198.79 L204.00,199.03 L204.50,199.28 L205.00,199.52 L205.50,199.77 L206.00,200.01 L206.50,200.25 L207.00,200.49 L207.50,200.74 L208.00,200.98 L208.50,201.22 L209.00,201.46 L209.50,201.70 L210.00,201.94 L210.50,202.18 L211.00,202.42 L211.50,202.65 L212.00,202.89 L212.50,203.13 L213.00,203.37 L213.50,203.60 L214.00,203.84 L214.50,204.08 L215.00,204.31 L215.50,204.55 L216.00,204.78 L216.50,205.02 L217.00,205.25 L217.50,205.49 L218.00,205.72 L218.50,205.95 L219.00,206.19 L219.50,206.42 L220.00,206.65 L220.50,206.88 L221.00,207.11 L221.50,207.34 L222.00,207.58 L222.50,207.81 L223.00,208.04 L223.50,208.27 L224.00,208.50 L224.50,208.73 L225.00,208.95 L225.50,209.18 L226.00,209.41 L226.50,209.64 L227.00,209.87 L227.50,210.09 L228.00,210.32 L228.50,210.55 L229.00,210.77 L229.50,211.00 L230.00,211.23 L230.50,211.45 L231.00,211.68 L231.50,211.90 L232.00,212.13 L232.50,212.35 L233.00,212.58 L233.50,212.80 L234.00,213.02 L234.50,213.25 L235.00,213.47 L235.50,213.69 L236.00,213.92 L236.50,214.14 L237.00,214.36 L237.50,214.58 L238.00,214.81 L238.50,215.03 L239.00,215.25 L239.50,215.47 L240.00,215.69 L240.50,215.91 L241.00,216.13 L241.50,216.35 L242.00,216.57 L242.50,216.79 L243.00,217.01 L243.50,217.23 L244.00,217.45 L244.50,217.67 L245.00,217.88 L245.50,218.10 L246.00,218.32 L246.50,218.54 L247.00,218.76 L247.50,218.97 L248.00,219.19 L248.50,219.41 L249.00,219.62 L249.50,219.84 L250.00,220.06 L250.50,220.27 L251.00,220.49 L251.50,220.70 L252.00,220.92 L252.50,221.13 L253.00,221.35 L253.50,221.56 L254.00,221.78 L254.50,221.99 L255.00,222.21 L255.50,222.42 L256.00,222.63 L256.50,222.85 L257.00,223.06 L257.50,223.27 L258.00,223.49 L258.50,223.70 L259.00,223.91 L259.50,224.13 L260.00,224.34 L260.50,224.55 L261.00,224.76 L261.50,224.97 L262.00,225.18 L262.50,225.40 L263.00,225.61 L263.50,225.82 L264.00,226.03 L264.50,226.24 L265.00,226.45 L265.50,226.66 L266.00,226.87 L266.50,227.08 L267.00,227.29 L267.50,227.50 L268.00,227.71 L268.50,227.92 L269.00,228.13 L269.50,228.33 L270.00,228.54 L270.50,228.75 L271.00,228.96 L271.50,229.17 L272.00,229.38 L272.50,229.58 L273.00,229.79 L273.50,230.00 L274.00,230.21 L274.50,230.41 L275.00,230.62 L275.50,230.83 L276.00,231.03 L276.50,231.24 L277.00,231.45 L277.50,231.65 L278.00,231.86 L278.50,232.06 L279.00,232.27 L279.50,232.48 L280.00,232.68 L280.50,232.89 L281.00,233.09 L281.50,233.30 L282.00,233.50 L282.50,233.70 L283.00,233.91 L283.50,234.11 L284.00,234.32 L284.50,234.52 L285.00,234.72 L285.50,234.93 L286.00,235.13 L286.50,235.33 L287.00,235.54 L287.50,235.74 L288.00,235.94 L288.50,236.15 L289.00,236.35 L289.50,236.55 L290.00,236.75 L290.50,236.96 L291.00,237.16 L291.50,237.36 L292.00,237.56 L292.50,237.76 L293.00,237.96 L293.50,238.16 L294.00,238.36 L294.50,238.57 L295.00,238.77 L295.50,238.97 L296.00,239.17 L296.50,239.37 L297.00,239.57 L297.50,239.77 L298.00,239.97 L298.50,240.17 L299.00,240.37 L299.50,240.56 L300.00,240.76 L300.50,240.96 L301.00,241.16 L301.50,241.36 L302.00,241.56 L302.50,241.76 L303.00,241.95 L303.50,242.15 L304.00,242.35 L304.50,242.55 L305.00,242.75 L305.50,242.94 L306.00,243.14 L306.50,243.34 L307.00,243.53 L307.50,243.73 L308.00,243.93 L308.50,244.12 L309.00,244.32 L309.50,244.52 L310.00,244.71 L310.50,244.91 L311.00,245.10 L311.50,245.30 L312.00,245.50 L312.50,245.69 L313.00,245.89 L313.50,246.08 L314.00,246.28 L314.50,246.47 L315.00,246.67 L315.50,246.86 L316.00,247.05 L316.50,247.25 L317.00,247.44 L317.50,247.64 L318.00,247.83 L318.50,248.02 L319.00,248.22 L319.50,248.41 L320.00,248.60 L320.50,248.80 L321.00,248.99 L321.50,249.18 L322.00,249.37 L322.50,249.57 L323.00,249.76 L323.50,249.95 L324.00,250.14 L324.50,250.33 L325.00,250.52 L325.50,250.72 L326.00,250.91 L326.50,251.10 L327.00,251.29 L327.50,251.48 L328.00,251.67 L328.50,251.86 L329.00,252.05 L329.50,252.24 L330.00,252.43 L330.50,252.62 L331.00,252.81 L331.50,253.00 L332.00,253.19 L332.50,253.38 L333.00,253.57 L333.50,253.76 L334.00,253.94 L334.50,254.13 L335.00,254.32 L335.50,254.51 L336.00,254.70 L336.50,254.89 L337.00,255.07 L337.50,255.26 L338.00,255.45 L338.50,255.64 L339.00,255.82 L339.50,256.01 L340.00,256.20 L340.50,256.38 L341.00,256.57 L341.50,256.76 L342.00,256.94 L342.50,257.13 L343.00,257.31 L343.50,257.50 L344.00,257.68 L344.50,257.87 L345.00,258.06 L345.50,258.24 L346.00,258.43 L346.50,258.61 L347.00,258.79 L347.50,258.98 L348.00,259.16 L348.50,259.35 L349.00,259.53 L349.50,259.71 L350.00,259.90 L350.50,260.08 L351.00,260.26 L351.50,260.45 L352.00,260.63 L352.50,260.81 L353.00,261.00 L353.50,261.18 L354.00,261.36 L354.50,261.54 L355.00,261.72 L355.50,261.91 L356.00,262.09 L356.50,262.27 L357.00,262.45 L357.50,262.63 L358.00,262.81 L358.50,262.99 L359.00,263.17 L359.50,263.35 L360.00,263.53 L360.50,263.71 L361.00,263.89 L361.50,264.07 L362.00,264.25 L362.50,264.43 L363.00,264.61 L363.50,264.79 L364.00,264.97 L364.50,265.15 L365.00,265.33 L365.50,265.51 L366.00,265.68 L366.50,265.86 L367.00,266.04 L367.50,266.22 L368.00,266.39 L368.50,266.57 L369.00,266.75 L369.50,266.93 L370.00,267.10 L370.50,267.28 L371.00,267.46 L371.50,267.63 L372.00,267.81 L372.50,267.98 L373.00,268.16 L373.50,268.34 L374.00,268.51 L374.50,268.69 L375.00,268.86 L375.50,269.04 L376.00,269.21 L376.50,269.38 L377.00,269.56 L377.50,269.73 L378.00,269.91 L378.50,270.08 L379.00,270.25 L379.50,270.43 L380.00,270.60 L380.50,270.77 L381.00,270.95 L381.50,271.12 L382.00,271.29 L382.50,271.46 L383.00,271.64 L383.50,271.81 L384.00,271.98 L384.50,272.15 L385.00,272.32 L385.50,272.49 L386.00,272.67 L386.50,272.84 L387.00,273.01 L387.50,273.18 L388.00,273.35 L388.50,273.52 L389.00,273.69 L389.50,273.86 L390.00,274.03 L390.50,274.20 L391.00,274.37 L391.50,274.53 L392.00,274.70 L392.50,274.87 L392.60,274.91 L394.10,275.41" stroke="#aa0000" stroke-width="2.6" fill="none" stroke-linejoin="round"/>
<path d="M75.00,106.63 L75.25,109.75 L75.50,112.67 L75.75,115.41 L76.00,117.97 L76.25,120.38 L76.50,122.65 L76.75,124.78 L77.00,126.80 L77.25,128.71 L77.50,130.52 L77.75,132.25 L78.00,133.91 L78.25,135.49 L78.50,137.01 L78.75,138.48 L79.00,139.90 L79.25,141.27 L79.50,142.60 L79.75,143.89 L80.00,145.15 L80.25,146.37 L80.50,147.57 L80.75,148.74 L81.00,149.88 L81.25,151.00 L81.50,152.10 L81.75,153.17 L82.00,154.23 L82.25,155.26 L82.50,156.28 L82.75,157.28 L83.00,158.26 L83.25,159.22 L83.50,160.17 L83.75,161.10 L84.00,162.02 L84.25,162.92 L84.50,163.81 L84.75,164.68 L85.00,165.54 L85.50,167.21 L86.00,168.83 L86.50,170.40 L87.00,171.92 L87.50,173.40 L88.00,174.83 L88.50,176.22 L89.00,177.57 L89.50,178.88 L90.00,180.15 L90.50,181.39 L91.00,182.59 L91.50,183.76 L92.00,184.90 L92.50,186.01 L93.00,187.10 L93.50,188.16 L94.00,189.19 L94.50,190.21 L95.00,191.20 L95.50,192.16 L96.00,193.11 L96.50,194.04 L97.00,194.96 L97.50,195.85 L98.00,196.74 L98.50,197.60 L99.00,198.45 L99.50,199.29 L100.00,200.12 L100.50,200.93 L101.00,201.73 L101.50,202.52 L102.00,203.30 L102.50,204.07 L103.00,204.83 L103.50,205.58 L104.00,206.33 L104.50,207.06 L105.00,207.79 L105.50,208.50 L106.00,209.22 L106.50,209.92 L107.00,210.62 L107.50,211.31 L108.00,211.99 L108.50,212.66 L109.00,213.34 L109.50,214.00 L110.00,214.66 L110.50,215.31 L111.00,215.96 L111.50,216.60 L112.00,217.24 L112.50,217.87 L113.00,218.50 L113.50,219.12 L114.00,219.73 L114.50,220.35 L115.00,220.95 L115.50,221.56 L116.00,222.15 L116.50,222.75 L117.00,223.34 L117.50,223.92 L118.00,224.50 L118.50,225.08 L119.00,225.65 L119.50,226.22 L120.00,226.78 L120.50,227.34 L121.00,227.90 L121.50,228.45 L122.00,229.00 L122.50,229.54 L123.00,230.08 L123.50,230.62 L124.00,231.15 L124.50,231.68 L125.00,232.20 L125.50,232.73 L126.00,233.24 L126.50,233.76 L127.00,234.27 L127.50,234.78 L128.00,235.28 L128.50,235.78 L129.00,236.28 L129.50,236.77 L130.00,237.26 L130.50,237.75 L131.00,238.23 L131.50,238.72 L132.00,239.19 L132.50,239.67 L133.00,240.14 L133.50,240.61 L134.00,241.07 L134.50,241.54 L135.00,242.00 L135.50,242.45 L136.00,242.91 L136.50,243.36 L137.00,243.80 L137.50,244.25 L138.00,244.69 L138.50,245.13 L139.00,245.57 L139.50,246.00 L140.00,246.43 L140.50,246.86 L141.00,247.29 L141.50,247.71 L142.00,248.14 L142.50,248.55 L143.00,248.97 L143.50,249.38 L144.00,249.80 L144.50,250.21 L145.00,250.61 L145.50,251.02 L146.00,251.42 L146.50,251.82 L147.00,252.22 L147.50,252.61 L148.00,253.01 L148.50,253.40 L149.00,253.79 L149.50,254.17 L150.00,254.56 L150.50,254.94 L151.00,255.32 L151.50,255.70 L152.00,256.08 L152.50,256.46 L153.00,256.83 L153.50,257.20 L154.00,257.57 L154.50,257.94 L155.00,258.30 L155.50,258.67 L156.00,259.03 L156.50,259.39 L157.00,259.75 L157.50,260.11 L158.00,260.47 L158.50,260.82 L159.00,261.17 L159.50,261.52 L160.00,261.87 L160.50,262.22 L161.00,262.57 L161.50,262.91 L162.00,263.26 L162.50,263.60 L163.00,263.94 L163.50,264.28 L164.00,264.62 L164.50,264.95 L165.00,265.29 L165.50,265.62 L166.00,265.96 L166.50,266.29 L167.00,266.62 L167.50,266.95 L168.00,267.28 L168.50,267.60 L169.00,267.93 L169.50,268.25 L170.00,268.58 L170.50,268.90 L171.00,269.22 L171.50,269.54 L172.00,269.86 L172.50,270.18 L173.00,270.49 L173.50,270.81 L174.00,271.12 L174.50,271.44 L175.00,271.75 L175.50,272.06 L176.00,272.37 L176.50,272.68 L177.00,272.99 L177.50,273.30 L178.00,273.60 L178.50,273.91 L179.00,274.21 L179.50,274.52 L180.00,274.82 L180.50,275.13 L181.00,275.43 L181.50,275.73 L182.00,276.03 L182.50,276.33 L183.00,276.63 L183.50,276.92 L184.00,277.22 L184.50,277.52 L185.00,277.81 L185.50,278.11 L186.00,278.40 L186.50,278.69 L187.00,278.99 L187.50,279.28 L188.00,279.57 L188.50,279.86 L189.00,280.15 L189.50,280.44 L190.00,280.73 L190.50,281.02 L191.00,281.30 L191.50,281.59 L192.00,281.88 L192.50,282.16 L193.00,282.45 L193.50,282.73 L194.00,283.02 L194.50,283.30 L195.00,283.58 L195.50,283.86 L196.00,284.14 L196.50,284.43 L197.00,284.71 L197.50,284.99 L198.00,285.26 L198.50,285.54 L199.00,285.82 L199.50,286.10 L200.00,286.38 L200.50,286.65 L201.00,286.93 L201.50,287.21 L202.00,287.48 L202.50,287.75 L203.00,288.03 L203.50,288.30 L204.00,288.58 L204.50,288.85 L205.00,289.12 L205.50,289.39 L206.00,289.66 L206.50,289.94 L207.00,290.21 L207.50,290.48 L208.00,290.75 L208.50,291.02 L209.00,291.28 L209.50,291.55 L210.00,291.82 L210.50,292.09 L211.00,292.36 L211.50,292.62 L212.00,292.89 L212.50,293.15 L213.00,293.42 L213.50,293.69 L214.00,293.95 L214.50,294.21 L215.00,294.48 L215.50,294.74 L216.00,295.01 L216.50,295.27 L217.00,295.53 L217.50,295.79 L218.00,296.05 L218.50,296.32 L219.00,296.58 L219.50,296.84 L220.00,297.10 L220.50,297.36 L221.00,297.62 L221.50,297.88 L222.00,298.14 L222.50,298.39 L223.00,298.65 L223.50,298.91 L224.00,299.17 L224.50,299.43 L225.00,299.68 L225.50,299.94 L226.00,300.20 L226.50,300.45 L227.00,300.71 L227.50,300.96 L228.00,301.22 L228.50,301.47 L229.00,301.73 L229.50,301.98 L230.00,302.23 L230.50,302.49 L231.00,302.74 L231.50,302.99 L232.00,303.25 L232.50,303.50 L233.00,303.75 L233.50,304.00 L234.00,304.25 L234.50,304.50 L235.00,304.75 L235.50,305.00 L236.00,305.25 L236.50,305.50 L237.00,305.75 L237.50,306.00 L238.00,306.25 L238.50,306.50 L239.00,306.75 L239.50,306.99 L240.00,307.24 L240.50,307.49 L241.00,307.74 L241.50,307.98 L242.00,308.23 L242.50,308.47 L243.00,308.72 L243.50,308.97 L244.00,309.21 L244.50,309.46 L245.00,309.70 L245.50,309.94 L246.00,310.19 L246.50,310.43 L247.00,310.68 L247.50,310.92 L248.00,311.16 L248.50,311.40 L249.00,311.65 L249.50,311.89 L250.00,312.13 L250.50,312.37 L251.00,312.61 L251.50,312.85 L252.00,313.09 L252.50,313.33 L253.00,313.58 L253.50,313.81 L254.00,314.05 L254.50,314.29 L255.00,314.53 L255.50,314.77 L256.00,315.01 L256.50,315.25 L257.00,315.49 L257.50,315.72 L258.00,315.96 L258.50,316.20 L259.00,316.43 L259.50,316.67 L260.00,316.91 L260.50,317.14 L261.00,317.38 L261.50,317.61 L262.00,317.85 L262.50,318.08 L263.00,318.32 L263.50,318.55 L264.00,318.79 L264.50,319.02 L265.00,319.25 L265.50,319.49 L266.00,319.72 L266.50,319.95 L267.00,320.18 L267.50,320.42 L268.00,320.65 L268.50,320.88 L269.00,321.11 L269.50,321.34 L270.00,321.57 L270.50,321.80 L271.00,322.03 L271.50,322.26 L272.00,322.49 L272.50,322.72 L273.00,322.95 L273.50,323.18 L274.00,323.41 L274.50,323.63 L275.00,323.86 L275.50,324.09 L276.00,324.32 L276.50,324.54 L277.00,324.77 L277.50,325.00 L278.00,325.22 L278.50,325.45 L279.00,325.68 L279.50,325.90 L280.00,326.13 L280.50,326.35 L281.00,326.58 L281.50,326.80 L282.00,327.02 L282.50,327.25 L283.00,327.47 L283.50,327.69 L284.00,327.92 L284.50,328.14 L285.00,328.36 L285.50,328.59 L286.00,328.81 L286.50,329.03 L287.00,329.25 L287.50,329.47 L288.00,329.69 L288.50,329.91 L289.00,330.13 L289.50,330.35 L290.00,330.57 L290.50,330.79 L291.00,331.01 L291.50,331.23 L292.00,331.45 L292.50,331.67 L293.00,331.89 L293.50,332.10 L294.00,332.32 L294.50,332.54 L295.00,332.75 L295.50,332.97 L296.00,333.19 L296.50,333.40 L297.00,333.62 L297.50,333.84 L298.00,334.05 L298.50,334.27 L299.00,334.48 L299.50,334.70 L300.00,334.91 L300.50,335.12 L301.00,335.34 L301.50,335.55 L302.00,335.76 L302.50,335.98 L303.00,336.19 L303.50,336.40 L304.00,336.61 L304.50,336.83 L305.00,337.04 L305.50,337.25 L306.00,337.46 L306.50,337.67 L307.00,337.88 L307.50,338.09 L308.00,338.30 L308.50,338.51 L309.00,338.72 L309.50,338.93 L310.00,339.14 L310.50,339.35 L311.00,339.56 L311.50,339.76 L312.00,339.97 L312.50,340.18 L313.00,340.39 L313.50,340.59 L314.00,340.80 L314.50,341.01 L315.00,341.21 L315.50,341.42 L316.00,341.62 L316.50,341.83 L317.00,342.03 L317.50,342.24 L318.00,342.44 L318.50,342.65 L319.00,342.85 L319.50,343.06 L320.00,343.26 L320.50,343.46 L321.00,343.67 L321.50,343.87 L322.00,344.07 L322.50,344.27 L323.00,344.47 L323.50,344.68 L324.00,344.88 L324.50,345.08 L325.00,345.28 L325.50,345.48 L326.00,345.68 L326.50,345.88 L327.00,346.08 L327.50,346.28 L328.00,346.48 L328.50,346.68 L329.00,346.88 L329.50,347.07 L330.00,347.27 L330.50,347.47 L331.00,347.67 L331.50,347.87 L332.00,348.06 L332.50,348.26 L333.00,348.46 L333.50,348.65 L334.00,348.85 L334.50,349.04 L335.00,349.24 L335.50,349.43 L336.00,349.63 L336.50,349.82 L337.00,350.02 L337.50,350.21 L338.00,350.41 L338.50,350.60 L339.00,350.79 L339.50,350.99 L340.00,351.18 L340.50,351.37 L341.00,351.56 L341.50,351.76 L342.00,351.95 L342.50,352.14 L343.00,352.33 L343.50,352.52 L344.00,352.71 L344.50,352.90 L345.00,353.09 L345.50,353.28 L346.00,353.47 L346.50,353.66 L347.00,353.85 L347.50,354.04 L348.00,354.23 L348.50,354.42 L349.00,354.61 L349.50,354.79 L350.00,354.98 L350.50,355.17 L351.00,355.36 L351.50,355.54 L352.00,355.73 L352.50,355.92 L353.00,356.10 L353.50,356.29 L354.00,356.47 L354.50,356.66 L355.00,356.84 L355.50,357.03 L356.00,357.21 L356.50,357.40 L357.00,357.58 L357.50,357.77 L358.00,357.95 L358.50,358.13 L359.00,358.32 L359.50,358.50 L360.00,358.68 L360.50,358.86 L361.00,359.05 L361.50,359.23" stroke="#ff0000" stroke-width="2.6" fill="none" stroke-linejoin="round"/>

<line x1="73.9" y1="184.75" x2="392.6" y2="184.75" stroke="#000" stroke-width="2.2" stroke-dasharray="6.3 2.8"/>
</g>
<line x1="75.00" y1="359.1" x2="75.00" y2="354.8" stroke="#111" stroke-width="1"/>
<line x1="75.00" y1="10.4" x2="75.00" y2="13.0" stroke="#000" stroke-opacity="0.45" stroke-width="0.8"/>
<line x1="85.59" y1="359.1" x2="85.59" y2="356.20000000000005" stroke="#111" stroke-width="1"/>
<line x1="85.59" y1="10.4" x2="85.59" y2="13.0" stroke="#000" stroke-opacity="0.45" stroke-width="0.8"/>
<line x1="96.17" y1="359.1" x2="96.17" y2="356.20000000000005" stroke="#111" stroke-width="1"/>
<line x1="96.17" y1="10.4" x2="96.17" y2="13.0" stroke="#000" stroke-opacity="0.45" stroke-width="0.8"/>
<line x1="106.76" y1="359.1" x2="106.76" y2="356.20000000000005" stroke="#111" stroke-width="1"/>
<line x1="106.76" y1="10.4" x2="106.76" y2="13.0" stroke="#000" stroke-opacity="0.45" stroke-width="0.8"/>
<line x1="117.35" y1="359.1" x2="117.35" y2="356.20000000000005" stroke="#111" stroke-width="1"/>
<line x1="117.35" y1="10.4" x2="117.35" y2="13.0" stroke="#000" stroke-opacity="0.45" stroke-width="0.8"/>
<line x1="127.93" y1="359.1" x2="127.93" y2="354.8" stroke="#111" stroke-width="1"/>
<line x1="127.93" y1="10.4" x2="127.93" y2="13.0" stroke="#000" stroke-opacity="0.45" stroke-width="0.8"/>
<line x1="138.52" y1="359.1" x2="138.52" y2="356.20000000000005" stroke="#111" stroke-width="1"/>
<line x1="138.52" y1="10.4" x2="138.52" y2="13.0" stroke="#000" stroke-opacity="0.45" stroke-width="0.8"/>
<line x1="149.11" y1="359.1" x2="149.11" y2="356.20000000000005" stroke="#111" stroke-width="1"/>
<line x1="149.11" y1="10.4" x2="149.11" y2="13.0" stroke="#000" stroke-opacity="0.45" stroke-width="0.8"/>
<line x1="159.69" y1="359.1" x2="159.69" y2="356.20000000000005" stroke="#111" stroke-width="1"/>
<line x1="159.69" y1="10.4" x2="159.69" y2="13.0" stroke="#000" stroke-opacity="0.45" stroke-width="0.8"/>
<line x1="170.28" y1="359.1" x2="170.28" y2="356.20000000000005" stroke="#111" stroke-width="1"/>
<line x1="170.28" y1="10.4" x2="170.28" y2="13.0" stroke="#000" stroke-opacity="0.45" stroke-width="0.8"/>
<line x1="180.87" y1="359.1" x2="180.87" y2="354.8" stroke="#111" stroke-width="1"/>
<line x1="180.87" y1="10.4" x2="180.87" y2="13.0" stroke="#000" stroke-opacity="0.45" stroke-width="0.8"/>
<line x1="191.45" y1="359.1" x2="191.45" y2="356.20000000000005" stroke="#111" stroke-width="1"/>
<line x1="191.45" y1="10.4" x2="191.45" y2="13.0" stroke="#000" stroke-opacity="0.45" stroke-width="0.8"/>
<line x1="202.04" y1="359.1" x2="202.04" y2="356.20000000000005" stroke="#111" stroke-width="1"/>
<line x1="202.04" y1="10.4" x2="202.04" y2="13.0" stroke="#000" stroke-opacity="0.45" stroke-width="0.8"/>
<line x1="212.63" y1="359.1" x2="212.63" y2="356.20000000000005" stroke="#111" stroke-width="1"/>
<line x1="212.63" y1="10.4" x2="212.63" y2="13.0" stroke="#000" stroke-opacity="0.45" stroke-width="0.8"/>
<line x1="223.21" y1="359.1" x2="223.21" y2="356.20000000000005" stroke="#111" stroke-width="1"/>
<line x1="223.21" y1="10.4" x2="223.21" y2="13.0" stroke="#000" stroke-opacity="0.45" stroke-width="0.8"/>
<line x1="233.80" y1="359.1" x2="233.80" y2="354.8" stroke="#111" stroke-width="1"/>
<line x1="233.80" y1="10.4" x2="233.80" y2="13.0" stroke="#000" stroke-opacity="0.45" stroke-width="0.8"/>
<line x1="244.39" y1="359.1" x2="244.39" y2="356.20000000000005" stroke="#111" stroke-width="1"/>
<line x1="244.39" y1="10.4" x2="244.39" y2="13.0" stroke="#000" stroke-opacity="0.45" stroke-width="0.8"/>
<line x1="254.97" y1="359.1" x2="254.97" y2="356.20000000000005" stroke="#111" stroke-width="1"/>
<line x1="254.97" y1="10.4" x2="254.97" y2="13.0" stroke="#000" stroke-opacity="0.45" stroke-width="0.8"/>
<line x1="265.56" y1="359.1" x2="265.56" y2="356.20000000000005" stroke="#111" stroke-width="1"/>
<line x1="265.56" y1="10.4" x2="265.56" y2="13.0" stroke="#000" stroke-opacity="0.45" stroke-width="0.8"/>
<line x1="276.15" y1="359.1" x2="276.15" y2="356.20000000000005" stroke="#111" stroke-width="1"/>
<line x1="276.15" y1="10.4" x2="276.15" y2="13.0" stroke="#000" stroke-opacity="0.45" stroke-width="0.8"/>
<line x1="286.73" y1="359.1" x2="286.73" y2="354.8" stroke="#111" stroke-width="1"/>
<line x1="286.73" y1="10.4" x2="286.73" y2="13.0" stroke="#000" stroke-opacity="0.45" stroke-width="0.8"/>
<line x1="297.32" y1="359.1" x2="297.32" y2="356.20000000000005" stroke="#111" stroke-width="1"/>
<line x1="297.32" y1="10.4" x2="297.32" y2="13.0" stroke="#000" stroke-opacity="0.45" stroke-width="0.8"/>
<line x1="307.91" y1="359.1" x2="307.91" y2="356.20000000000005" stroke="#111" stroke-width="1"/>
<line x1="307.91" y1="10.4" x2="307.91" y2="13.0" stroke="#000" stroke-opacity="0.45" stroke-width="0.8"/>
<line x1="318.49" y1="359.1" x2="318.49" y2="356.20000000000005" stroke="#111" stroke-width="1"/>
<line x1="318.49" y1="10.4" x2="318.49" y2="13.0" stroke="#000" stroke-opacity="0.45" stroke-width="0.8"/>
<line x1="329.08" y1="359.1" x2="329.08" y2="356.20000000000005" stroke="#111" stroke-width="1"/>
<line x1="329.08" y1="10.4" x2="329.08" y2="13.0" stroke="#000" stroke-opacity="0.45" stroke-width="0.8"/>
<line x1="339.67" y1="359.1" x2="339.67" y2="354.8" stroke="#111" stroke-width="1"/>
<line x1="339.67" y1="10.4" x2="339.67" y2="13.0" stroke="#000" stroke-opacity="0.45" stroke-width="0.8"/>
<line x1="350.25" y1="359.1" x2="350.25" y2="356.20000000000005" stroke="#111" stroke-width="1"/>
<line x1="350.25" y1="10.4" x2="350.25" y2="13.0" stroke="#000" stroke-opacity="0.45" stroke-width="0.8"/>
<line x1="360.84" y1="359.1" x2="360.84" y2="356.20000000000005" stroke="#111" stroke-width="1"/>
<line x1="360.84" y1="10.4" x2="360.84" y2="13.0" stroke="#000" stroke-opacity="0.45" stroke-width="0.8"/>
<line x1="371.43" y1="359.1" x2="371.43" y2="356.20000000000005" stroke="#111" stroke-width="1"/>
<line x1="371.43" y1="10.4" x2="371.43" y2="13.0" stroke="#000" stroke-opacity="0.45" stroke-width="0.8"/>
<line x1="382.01" y1="359.1" x2="382.01" y2="356.20000000000005" stroke="#111" stroke-width="1"/>
<line x1="382.01" y1="10.4" x2="382.01" y2="13.0" stroke="#000" stroke-opacity="0.45" stroke-width="0.8"/>
<line x1="392.60" y1="359.1" x2="392.60" y2="354.8" stroke="#111" stroke-width="1"/>
<line x1="392.60" y1="10.4" x2="392.60" y2="13.0" stroke="#000" stroke-opacity="0.45" stroke-width="0.8"/>
<line x1="75.0" y1="359.10" x2="78.1" y2="359.10" stroke="#000" stroke-opacity="0.65" stroke-width="0.9"/>
<line x1="392.6" y1="359.10" x2="389.5" y2="359.10" stroke="#000" stroke-opacity="0.65" stroke-width="0.9"/>
<line x1="75.0" y1="332.86" x2="78.1" y2="332.86" stroke="#000" stroke-opacity="0.5" stroke-width="0.9"/>
<line x1="392.6" y1="332.86" x2="389.5" y2="332.86" stroke="#000" stroke-opacity="0.5" stroke-width="0.9"/>
<line x1="75.0" y1="317.51" x2="78.1" y2="317.51" stroke="#000" stroke-opacity="0.5" stroke-width="0.9"/>
<line x1="392.6" y1="317.51" x2="389.5" y2="317.51" stroke="#000" stroke-opacity="0.5" stroke-width="0.9"/>
<line x1="75.0" y1="306.62" x2="78.1" y2="306.62" stroke="#000" stroke-opacity="0.5" stroke-width="0.9"/>
<line x1="392.6" y1="306.62" x2="389.5" y2="306.62" stroke="#000" stroke-opacity="0.5" stroke-width="0.9"/>
<line x1="75.0" y1="298.17" x2="78.1" y2="298.17" stroke="#000" stroke-opacity="0.5" stroke-width="0.9"/>
<line x1="392.6" y1="298.17" x2="389.5" y2="298.17" stroke="#000" stroke-opacity="0.5" stroke-width="0.9"/>
<line x1="75.0" y1="291.26" x2="78.1" y2="291.26" stroke="#000" stroke-opacity="0.5" stroke-width="0.9"/>
<line x1="392.6" y1="291.26" x2="389.5" y2="291.26" stroke="#000" stroke-opacity="0.5" stroke-width="0.9"/>
<line x1="75.0" y1="285.43" x2="78.1" y2="285.43" stroke="#000" stroke-opacity="0.5" stroke-width="0.9"/>
<line x1="392.6" y1="285.43" x2="389.5" y2="285.43" stroke="#000" stroke-opacity="0.5" stroke-width="0.9"/>
<line x1="75.0" y1="280.37" x2="78.1" y2="280.37" stroke="#000" stroke-opacity="0.5" stroke-width="0.9"/>
<line x1="392.6" y1="280.37" x2="389.5" y2="280.37" stroke="#000" stroke-opacity="0.5" stroke-width="0.9"/>
<line x1="75.0" y1="275.91" x2="78.1" y2="275.91" stroke="#000" stroke-opacity="0.5" stroke-width="0.9"/>
<line x1="392.6" y1="275.91" x2="389.5" y2="275.91" stroke="#000" stroke-opacity="0.5" stroke-width="0.9"/>
<line x1="75.0" y1="271.93" x2="78.1" y2="271.93" stroke="#000" stroke-opacity="0.65" stroke-width="0.9"/>
<line x1="392.6" y1="271.93" x2="389.5" y2="271.93" stroke="#000" stroke-opacity="0.65" stroke-width="0.9"/>
<line x1="75.0" y1="245.68" x2="78.1" y2="245.68" stroke="#000" stroke-opacity="0.5" stroke-width="0.9"/>
<line x1="392.6" y1="245.68" x2="389.5" y2="245.68" stroke="#000" stroke-opacity="0.5" stroke-width="0.9"/>
<line x1="75.0" y1="230.33" x2="78.1" y2="230.33" stroke="#000" stroke-opacity="0.5" stroke-width="0.9"/>
<line x1="392.6" y1="230.33" x2="389.5" y2="230.33" stroke="#000" stroke-opacity="0.5" stroke-width="0.9"/>
<line x1="75.0" y1="219.44" x2="78.1" y2="219.44" stroke="#000" stroke-opacity="0.5" stroke-width="0.9"/>
<line x1="392.6" y1="219.44" x2="389.5" y2="219.44" stroke="#000" stroke-opacity="0.5" stroke-width="0.9"/>
<line x1="75.0" y1="210.99" x2="78.1" y2="210.99" stroke="#000" stroke-opacity="0.5" stroke-width="0.9"/>
<line x1="392.6" y1="210.99" x2="389.5" y2="210.99" stroke="#000" stroke-opacity="0.5" stroke-width="0.9"/>
<line x1="75.0" y1="204.09" x2="78.1" y2="204.09" stroke="#000" stroke-opacity="0.5" stroke-width="0.9"/>
<line x1="392.6" y1="204.09" x2="389.5" y2="204.09" stroke="#000" stroke-opacity="0.5" stroke-width="0.9"/>
<line x1="75.0" y1="198.25" x2="78.1" y2="198.25" stroke="#000" stroke-opacity="0.5" stroke-width="0.9"/>
<line x1="392.6" y1="198.25" x2="389.5" y2="198.25" stroke="#000" stroke-opacity="0.5" stroke-width="0.9"/>
<line x1="75.0" y1="193.20" x2="78.1" y2="193.20" stroke="#000" stroke-opacity="0.5" stroke-width="0.9"/>
<line x1="392.6" y1="193.20" x2="389.5" y2="193.20" stroke="#000" stroke-opacity="0.5" stroke-width="0.9"/>
<line x1="75.0" y1="188.74" x2="78.1" y2="188.74" stroke="#000" stroke-opacity="0.5" stroke-width="0.9"/>
<line x1="392.6" y1="188.74" x2="389.5" y2="188.74" stroke="#000" stroke-opacity="0.5" stroke-width="0.9"/>
<line x1="75.0" y1="184.75" x2="78.1" y2="184.75" stroke="#000" stroke-opacity="0.65" stroke-width="0.9"/>
<line x1="392.6" y1="184.75" x2="389.5" y2="184.75" stroke="#000" stroke-opacity="0.65" stroke-width="0.9"/>
<line x1="75.0" y1="158.51" x2="78.1" y2="158.51" stroke="#000" stroke-opacity="0.5" stroke-width="0.9"/>
<line x1="392.6" y1="158.51" x2="389.5" y2="158.51" stroke="#000" stroke-opacity="0.5" stroke-width="0.9"/>
<line x1="75.0" y1="143.16" x2="78.1" y2="143.16" stroke="#000" stroke-opacity="0.5" stroke-width="0.9"/>
<line x1="392.6" y1="143.16" x2="389.5" y2="143.16" stroke="#000" stroke-opacity="0.5" stroke-width="0.9"/>
<line x1="75.0" y1="132.27" x2="78.1" y2="132.27" stroke="#000" stroke-opacity="0.5" stroke-width="0.9"/>
<line x1="392.6" y1="132.27" x2="389.5" y2="132.27" stroke="#000" stroke-opacity="0.5" stroke-width="0.9"/>
<line x1="75.0" y1="123.82" x2="78.1" y2="123.82" stroke="#000" stroke-opacity="0.5" stroke-width="0.9"/>
<line x1="392.6" y1="123.82" x2="389.5" y2="123.82" stroke="#000" stroke-opacity="0.5" stroke-width="0.9"/>
<line x1="75.0" y1="116.91" x2="78.1" y2="116.91" stroke="#000" stroke-opacity="0.5" stroke-width="0.9"/>
<line x1="392.6" y1="116.91" x2="389.5" y2="116.91" stroke="#000" stroke-opacity="0.5" stroke-width="0.9"/>
<line x1="75.0" y1="111.08" x2="78.1" y2="111.08" stroke="#000" stroke-opacity="0.5" stroke-width="0.9"/>
<line x1="392.6" y1="111.08" x2="389.5" y2="111.08" stroke="#000" stroke-opacity="0.5" stroke-width="0.9"/>
<line x1="75.0" y1="106.02" x2="78.1" y2="106.02" stroke="#000" stroke-opacity="0.5" stroke-width="0.9"/>
<line x1="392.6" y1="106.02" x2="389.5" y2="106.02" stroke="#000" stroke-opacity="0.5" stroke-width="0.9"/>
<line x1="75.0" y1="101.56" x2="78.1" y2="101.56" stroke="#000" stroke-opacity="0.5" stroke-width="0.9"/>
<line x1="392.6" y1="101.56" x2="389.5" y2="101.56" stroke="#000" stroke-opacity="0.5" stroke-width="0.9"/>
<line x1="75.0" y1="97.58" x2="78.1" y2="97.58" stroke="#000" stroke-opacity="0.65" stroke-width="0.9"/>
<line x1="392.6" y1="97.58" x2="389.5" y2="97.58" stroke="#000" stroke-opacity="0.65" stroke-width="0.9"/>
<line x1="75.0" y1="71.33" x2="78.1" y2="71.33" stroke="#000" stroke-opacity="0.5" stroke-width="0.9"/>
<line x1="392.6" y1="71.33" x2="389.5" y2="71.33" stroke="#000" stroke-opacity="0.5" stroke-width="0.9"/>
<line x1="75.0" y1="55.98" x2="78.1" y2="55.98" stroke="#000" stroke-opacity="0.5" stroke-width="0.9"/>
<line x1="392.6" y1="55.98" x2="389.5" y2="55.98" stroke="#000" stroke-opacity="0.5" stroke-width="0.9"/>
<line x1="75.0" y1="45.09" x2="78.1" y2="45.09" stroke="#000" stroke-opacity="0.5" stroke-width="0.9"/>
<line x1="392.6" y1="45.09" x2="389.5" y2="45.09" stroke="#000" stroke-opacity="0.5" stroke-width="0.9"/>
<line x1="75.0" y1="36.64" x2="78.1" y2="36.64" stroke="#000" stroke-opacity="0.5" stroke-width="0.9"/>
<line x1="392.6" y1="36.64" x2="389.5" y2="36.64" stroke="#000" stroke-opacity="0.5" stroke-width="0.9"/>
<line x1="75.0" y1="29.74" x2="78.1" y2="29.74" stroke="#000" stroke-opacity="0.5" stroke-width="0.9"/>
<line x1="392.6" y1="29.74" x2="389.5" y2="29.74" stroke="#000" stroke-opacity="0.5" stroke-width="0.9"/>
<line x1="75.0" y1="23.90" x2="78.1" y2="23.90" stroke="#000" stroke-opacity="0.5" stroke-width="0.9"/>
<line x1="392.6" y1="23.90" x2="389.5" y2="23.90" stroke="#000" stroke-opacity="0.5" stroke-width="0.9"/>
<line x1="75.0" y1="18.85" x2="78.1" y2="18.85" stroke="#000" stroke-opacity="0.5" stroke-width="0.9"/>
<line x1="392.6" y1="18.85" x2="389.5" y2="18.85" stroke="#000" stroke-opacity="0.5" stroke-width="0.9"/>
<line x1="75.0" y1="14.39" x2="78.1" y2="14.39" stroke="#000" stroke-opacity="0.5" stroke-width="0.9"/>
<line x1="392.6" y1="14.39" x2="389.5" y2="14.39" stroke="#000" stroke-opacity="0.5" stroke-width="0.9"/>

<rect x="75.0" y="10.4" width="317.6" height="348.70000000000005" fill="none" stroke="#000" stroke-width="1.5"/>
<line x1="267.9" y1="31.5" x2="289.6" y2="31.5" stroke="#0000aa" stroke-width="2.6"/>
<text x="299.0" y="37.7" class="lg">T = 7000 K</text>
<line x1="267.9" y1="57.6" x2="289.6" y2="57.6" stroke="#00aa00" stroke-width="2.6"/>
<text x="299.0" y="63.800000000000004" class="lg">T = 5780 K</text>
<line x1="267.9" y1="83.7" x2="289.6" y2="83.7" stroke="#ffaa55" stroke-width="2.6"/>
<text x="299.0" y="89.9" class="lg">T = 4500 K</text>
<line x1="267.9" y1="109.8" x2="289.6" y2="109.8" stroke="#aa0000" stroke-width="2.6"/>
<text x="299.0" y="116.0" class="lg">T = 3500 K</text>
<line x1="267.9" y1="135.9" x2="289.6" y2="135.9" stroke="#ff0000" stroke-width="2.6"/>
<text x="299.0" y="142.1" class="lg">T = 2500 K</text>

<text x="71.0" y="17.30" text-anchor="end" class="tk">1000</text>
<text x="71.0" y="104.48" text-anchor="end" class="tk">100</text>
<text x="71.0" y="191.65" text-anchor="end" class="tk">10</text>
<text x="71.0" y="278.82" text-anchor="end" class="tk">1</text>
<text x="71.0" y="366.00" text-anchor="end" class="tk">0.1</text>

<text x="75.00" y="379.8" text-anchor="middle" class="tk">0</text>
<text x="127.93" y="379.8" text-anchor="middle" class="tk">50</text>
<text x="180.87" y="379.8" text-anchor="middle" class="tk">100</text>
<text x="233.80" y="379.8" text-anchor="middle" class="tk">150</text>
<text x="286.73" y="379.8" text-anchor="middle" class="tk">200</text>
<text x="339.67" y="379.8" text-anchor="middle" class="tk">250</text>
<text x="392.60" y="379.8" text-anchor="middle" class="tk">300</text>

<text x="234.5" y="405.8" text-anchor="middle" class="ax">Water depth (m)</text>
<text transform="translate(19.3,298.0) rotate(-90)" text-anchor="start" class="ax" style="font-size:17.94px">Photon flux</text>
<text transform="translate(19.3,70.6) rotate(-90)" text-anchor="end" class="ax" style="font-size:18.2px"><tspan letter-spacing="0.35">(<tspan font-style="italic">μ</tspan>mol</tspan> <tspan font-style="italic">m</tspan><tspan font-size="13.1" dy="-8.4">−2</tspan><tspan dy="8.4" dx="0"> </tspan><tspan font-style="italic">s</tspan><tspan font-size="13.6" dy="-8.4">−1</tspan><tspan dy="8.4" dx="1.4">)</tspan></text>
</svg>
</body></html>
